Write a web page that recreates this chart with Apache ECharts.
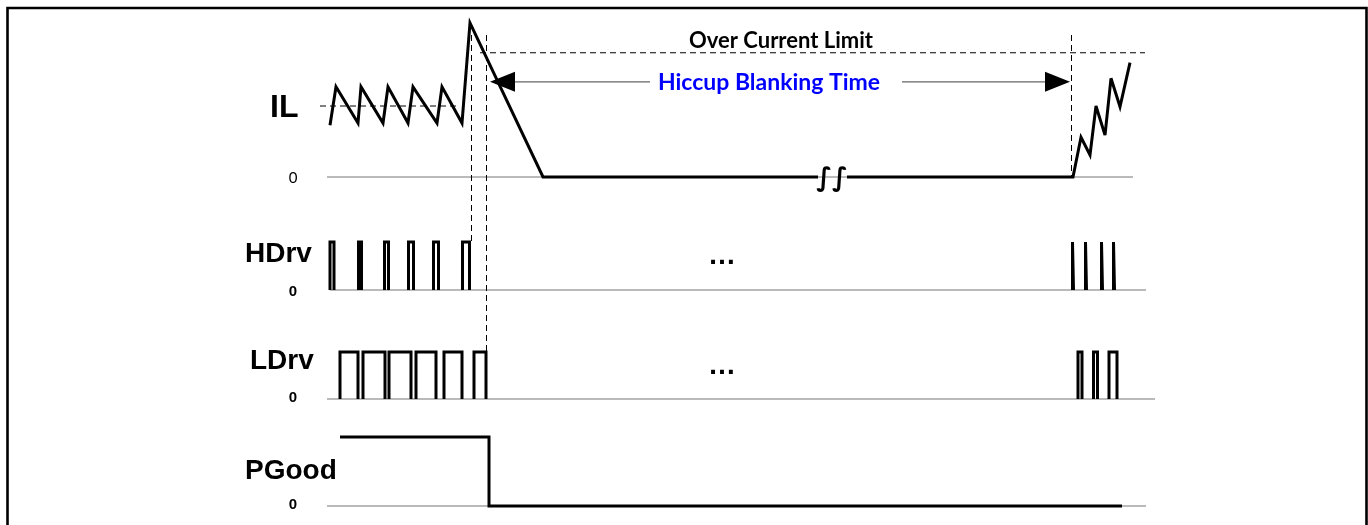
<!DOCTYPE html>
<html><head><meta charset="utf-8">
<script src="https://cdn.jsdelivr.net/npm/echarts@6/dist/echarts.min.js"></script>
<style>html,body{margin:0;padding:0;background:#fff}#c{width:1368px;height:525px}</style>
</head><body><div id="c"></div>
<script>
// ---------------- data (time in arbitrary units, signals normalised) ----------------
const signalNames = ['IL', 'HDrv', 'LDrv', 'PGood'];
const zeroLabels = ['0', '0', '0', '0'];

// inductor current (1 = average level), null = break in the trace
const ilTime  = [330, 336, 358, 361, 383, 388, 408, 413, 437, 442, 462, 470, 543, 818, 832, 847, 1073, 1081, 1090, 1096, 1105, 1111, 1120, 1130];
const ilValue = [0.73, 1.27, 0.76, 1.27, 0.76, 1.27, 0.76, 1.27, 0.76, 1.27, 0.76, 2.17, 0, 0, null, 0, 0, 0.56, 0.31, 1.0, 0.59, 1.39, 0.99, 1.61];

// gate drive pulses (rise / fall times), high = 1
const hdrvRise = [330, 358.5, 384.5, 408.5, 433.5, 462.5, 1072.5, 1085.5, 1101.5, 1113.5];
const hdrvFall = [334, 361.5, 388.5, 413.5, 438.5, 469.5, 1073.5, 1086.5, 1102.5, 1114.5];
const ldrvRise = [340, 363, 389, 416, 444, 474, 1078, 1093.5, 1109];
const ldrvFall = [358, 385, 411, 436, 462, 486, 1082, 1097.5, 1117];

// power good
const pgoodTime  = [340, 489, 489, 1122];
const pgoodValue = [1, 1, 0, 0];

// annotation levels / times
const ocLimit = 1.75;
const ilAverage = 1.0;
const hiccupLevel = 1.34;
const tripTimes = [471.5, 486.5, 1071.5];
const hiccupWindow = [490, 1070];
const annotationTexts = ['Over Current Limit', 'Hiccup Blanking Time'];

// ---------------- layout ----------------
const panels = {
  IL:    { base: 177, scale: 71, x0: 327, x1: 1133 },
  HDrv:  { base: 290, scale: 48, x0: 330, x1: 1146 },
  LDrv:  { base: 399, scale: 47, x0: 327, x1: 1155 },
  PGood: { base: 506, scale: 69, x0: 327, x1: 1146 }
};
function P(name, t, v) {
  return v == null ? [t, null] : [t, panels[name].base - v * panels[name].scale];
}
function pulses(name, rise, fall) {
  const d = [];
  for (let i = 0; i < rise.length; i++) {
    d.push(P(name, rise[i], 0), P(name, rise[i], 1), P(name, fall[i], 1), P(name, fall[i], 0), [fall[i], null]);
  }
  return d;
}
const thick = { color: '#000', width: 3, join: 'miter', miterLimit: 4 };
const dashed = { color: '#000', width: 1, type: [6, 4] };
function lineSeries(data, style, z) {
  return { type: 'line', data, showSymbol: false, silent: true, connectNulls: false,
           lineStyle: style, z: z || 2, animation: false };
}

const series = [];
// baselines
signalNames.forEach(n => {
  series.push(lineSeries([P(n, panels[n].x0, 0), P(n, panels[n].x1, 0)], { color: '#777', width: 1.2 }, 1));
});
// traces
series.push(lineSeries(ilTime.map((t, i) => P('IL', t, ilValue[i])), thick, 3));
series.push(lineSeries(pulses('HDrv', hdrvRise, hdrvFall), thick, 3));
series.push(lineSeries(pulses('LDrv', ldrvRise, ldrvFall), thick, 3));
series.push(lineSeries(pgoodTime.map((t, i) => P('PGood', t, pgoodValue[i])), thick, 3));
// dashed helpers
series.push(lineSeries([P('IL', 320, ilAverage), P('IL', 460, ilAverage)], dashed, 2));
series.push(lineSeries([P('IL', 480, ocLimit), P('IL', 1145, ocLimit)], dashed, 2));
series.push(lineSeries([P('IL', tripTimes[0], 2.0), P('HDrv', tripTimes[0], 1)], dashed, 2));
series.push(lineSeries([P('IL', tripTimes[1], 2.0), P('LDrv', tripTimes[1], 1)], dashed, 2));
series.push(lineSeries([P('IL', tripTimes[2], 2.0), P('IL', tripTimes[2], 0)], dashed, 2));
// hiccup arrow shafts
series.push(lineSeries([P('IL', hiccupWindow[0] + 20, hiccupLevel), P('IL', 650, hiccupLevel), [651, null],
                        P('IL', 902, hiccupLevel), P('IL', hiccupWindow[1] - 20, hiccupLevel)], { color: '#666', width: 1.2 }, 2));
// arrow heads
series.push({
  type: 'scatter', silent: true, animation: false, z: 4,
  data: [
    { value: P('IL', hiccupWindow[0] + 12.5, hiccupLevel), symbolRotate: 90 },
    { value: P('IL', hiccupWindow[1] - 12.5, hiccupLevel), symbolRotate: -90 }
  ],
  symbol: 'triangle', symbolSize: [20, 25], itemStyle: { color: '#000', opacity: 1 }
});

const labelFont = '"Liberation Sans", Arial, sans-serif';
const calFont = 'Lato, "Open Sans", sans-serif';
function txt(x, y, text, font, fill, align, extra) {
  return Object.assign({ type: 'text', x, y, z: 10, silent: true,
    style: { text, font, fill: fill || '#000', align: align || 'left', verticalAlign: 'middle' } }, extra || {});
}
const labelPos = [[270, 108, 32], [245, 254, 28], [250, 361, 28], [245, 471, 28]];
const zeroPos = [[293, 178, 'normal 15px ' + calFont], [293, 292, 'bold 15px ' + labelFont], [293, 398, 'bold 15px ' + labelFont], [293, 505, 'bold 15px ' + labelFont]];
const graphic = [
  { type: 'rect', shape: { x: 7.5, y: 8, width: 1359, height: 540 }, style: { fill: 'none', stroke: '#000', lineWidth: 2.6 }, silent: true, z: 10 }
];
signalNames.forEach((n, i) => {
  graphic.push(txt(labelPos[i][0], labelPos[i][1], n, 'bold ' + labelPos[i][2] + 'px ' + labelFont));
  graphic.push(txt(zeroPos[i][0], zeroPos[i][1], zeroLabels[i], zeroPos[i][2], '#000', 'center'));
});
graphic.push(txt(722, 256, '\u2026', 'bold 28px ' + labelFont, '#000', 'center'));
graphic.push(txt(722, 366, '\u2026', 'bold 28px ' + labelFont, '#000', 'center'));
graphic.push(txt(781, 41, annotationTexts[0], 'bold 22px ' + calFont, '#000', 'center'));
graphic.push(txt(769, 83, annotationTexts[1], 'bold 23px ' + calFont, '#0000ff', 'center'));
graphic.push(txt(832, 179, '\u222B\u222B', 'bold italic 26px "DejaVu Sans"', '#000', 'center'));

const chart = echarts.init(document.getElementById('c'), null, { renderer: 'canvas' });
chart.setOption({
  animation: false,
  grid: { left: 0, right: 0, top: 0, bottom: 0 },
  xAxis: { type: 'value', min: 0, max: 1368, show: false },
  yAxis: { type: 'value', min: 0, max: 525, inverse: true, show: false },
  series,
  graphic
});
</script></body></html>
